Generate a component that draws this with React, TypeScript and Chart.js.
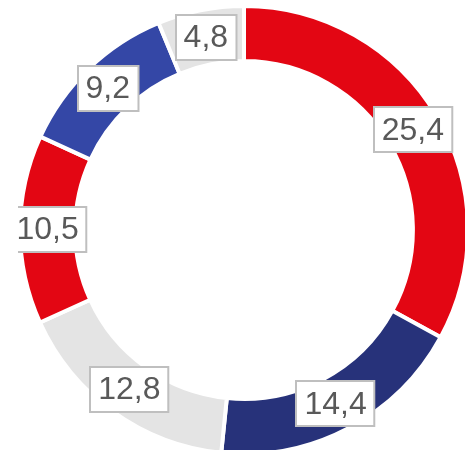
import React, { useEffect, useRef } from "react";
import { Chart, registerables } from "chart.js";

Chart.register(...registerables);

const categories = ["A", "B", "C", "D", "E", "F"];
const values = [25.4, 14.4, 12.8, 10.5, 9.2, 4.8];
const valueLabels = ["25,4", "14,4", "12,8", "10,5", "9,2", "4,8"];
const colors = ["#E30613", "#27327A", "#E4E4E4", "#E30613", "#3447A6", "#E4E4E4"];

const labelPlugin = {
  id: "boxLabels",
  afterDatasetsDraw(chart: any) {
    const ctx = chart.ctx;
    const meta = chart.getDatasetMeta(0);
    ctx.save();
    ctx.font = '32px "Liberation Sans", Arial, sans-serif';
    ctx.textAlign = "center";
    ctx.textBaseline = "middle";
    meta.data.forEach((arc: any, i: number) => {
      const p = arc.getCenterPoint();
      const text = valueLabels[i];
      const w = ctx.measureText(text).width + 16;
      const h = 45;
      const x = Math.round(p.x - w / 2);
      const y = Math.round(p.y - h / 2);
      ctx.fillStyle = "#FFFFFF";
      ctx.fillRect(x, y, w, h);
      ctx.strokeStyle = "#BFBFBF";
      ctx.lineWidth = 2;
      ctx.strokeRect(x, y, w, h);
      ctx.fillStyle = "#595959";
      ctx.fillText(text, p.x, p.y + 1);
    });
    ctx.restore();
  },
};

export default function App() {
  const ref = useRef<HTMLCanvasElement | null>(null);
  useEffect(() => {
    if (!ref.current) return;
    const chart = new Chart(ref.current, {
      type: "doughnut",
      data: {
        labels: categories,
        datasets: [
          {
            data: values,
            backgroundColor: colors,
            borderColor: "#FFFFFF",
            borderWidth: 4,
            hoverOffset: 0,
          },
        ],
      },
      options: {
        animation: false,
        responsive: false,
        maintainAspectRatio: false,
        cutout: "75.4%",
        layout: { padding: 0 },
        plugins: {
          legend: { display: false },
          tooltip: { enabled: false },
        },
      },
      plugins: [labelPlugin],
    });
    return () => chart.destroy();
  }, []);
  return (
    <div
      style={{
        position: "fixed",
        left: 0,
        top: 0,
        width: 465,
        height: 450,
        overflow: "hidden",
        background: "#FFFFFF",
      }}
    >
      <div style={{ position: "absolute", left: 18, top: 4, width: 452, height: 452 }}>
        <canvas ref={ref} width={452} height={452} style={{ width: 452, height: 452 }} />
      </div>
    </div>
  );
}
